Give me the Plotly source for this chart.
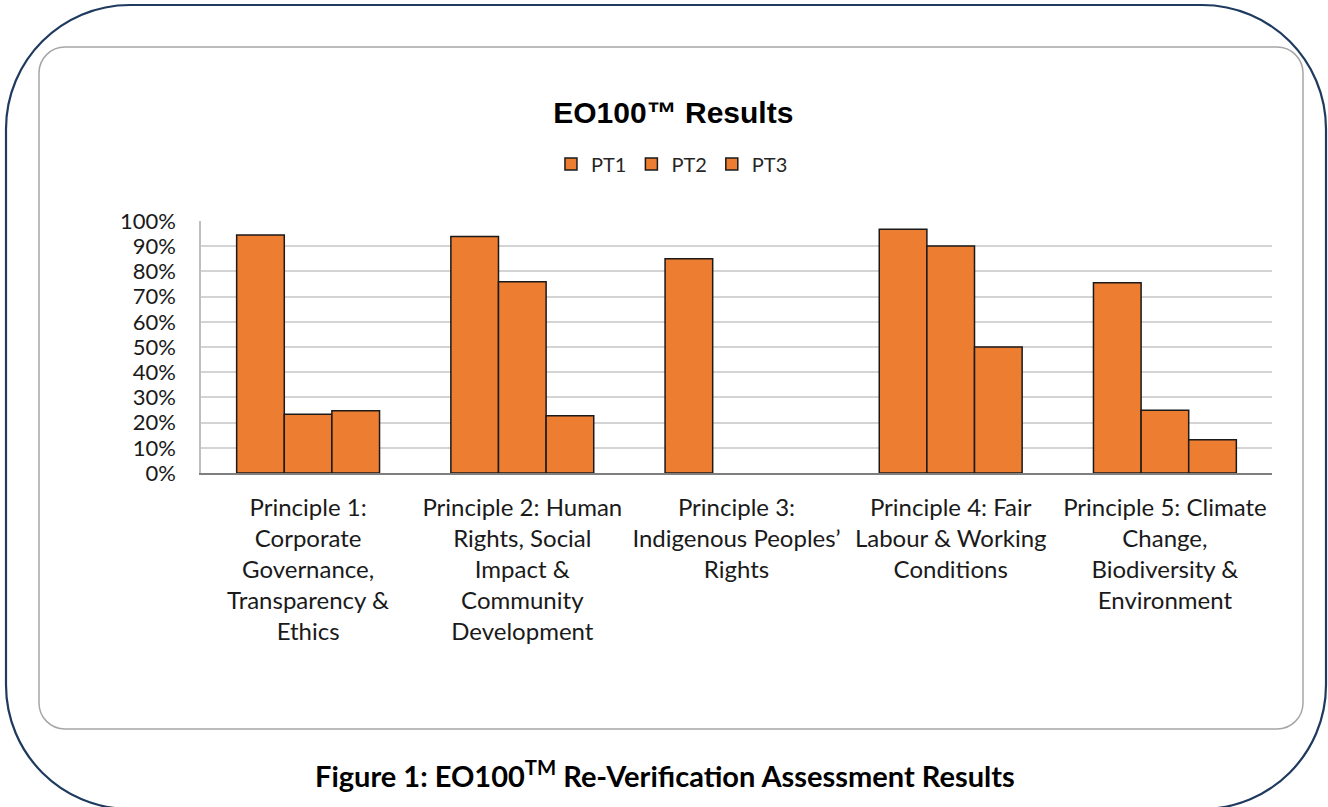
import plotly.graph_objects as go

categories = [
    "Principle 1:<br>Corporate<br>Governance,<br>Transparency &<br>Ethics",
    "Principle 2: Human<br>Rights, Social<br>Impact &<br>Community<br>Development",
    "Principle 3:<br>Indigenous Peoples’<br>Rights",
    "Principle 4: Fair<br>Labour & Working<br>Conditions",
    "Principle 5: Climate<br>Change,<br>Biodiversity &<br>Environment",
]
pt1 = [0.944, 0.938, 0.850, 0.967, 0.755]
pt2 = [0.233, 0.759, None, 0.901, 0.249]
pt3 = [0.247, 0.227, None, 0.500, 0.132]
series_names = ["PT1", "PT2", "PT3"]
y_ticks = [0, 0.1, 0.2, 0.3, 0.4, 0.5, 0.6, 0.7, 0.8, 0.9, 1.0]

W, H = 1328, 807
L, R, T, B = 201, 1272, 221, 473  # plot area in pixels

def px(x):
    return (x - L) / (R - L)

def py(y):
    return (B - y) / (B - T)

def rounded_rect_path(x0, y0, x1, y1, r):
    k = 0.5523 * r
    def P(x, y):
        return f"{px(x):.5f},{py(y):.5f}"
    d = f"M{P(x0 + r, y0)} L{P(x1 - r, y0)} "
    d += f"C{P(x1 - r + k, y0)} {P(x1, y0 + r - k)} {P(x1, y0 + r)} "
    d += f"L{P(x1, y1 - r)} "
    d += f"C{P(x1, y1 - r + k)} {P(x1 - r + k, y1)} {P(x1 - r, y1)} "
    d += f"L{P(x0 + r, y1)} "
    d += f"C{P(x0 + r - k, y1)} {P(x0, y1 - r + k)} {P(x0, y1 - r)} "
    d += f"L{P(x0, y0 + r)} "
    d += f"C{P(x0, y0 + r - k)} {P(x0 + r - k, y0)} {P(x0 + r, y0)} Z"
    return d

bar_color = "#ED7D31"
fig = go.Figure()
for name, vals in zip(series_names, [pt1, pt2, pt3]):
    fig.add_trace(go.Bar(
        x=categories, y=vals, name=name,
        marker=dict(color=bar_color, line=dict(color="#1a1a1a", width=1.5)),
    ))

fig.update_layout(
    width=W, height=H,
    margin=dict(l=L, r=W - R, t=T, b=H - B),
    paper_bgcolor="white", plot_bgcolor="white",
    barmode="group", bargap=0.333, bargroupgap=0,
    title=dict(text="<b>EO100™ Results</b>", x=0.507, xref="container", xanchor="center",
               y=1 - 112 / H, yref="container", yanchor="middle",
               font=dict(family="Liberation Sans, Arial", size=30, color="black")),
    legend=dict(orientation="h", xref="container", x=0.506, xanchor="center",
                yref="container", y=1 - 164 / H, yanchor="middle",
                font=dict(family="Lato", size=20, color="#262626"),
                itemwidth=30, tracegroupgap=0),
    showlegend=True,
    font=dict(family="Lato", color="#262626"),
)
fig.update_xaxes(
    showline=True, linecolor="#7f7f7f", linewidth=1.5,
    tickfont=dict(family="Lato", size=24, color="#1a1a1a"),
    ticks="", ticklabelstandoff=12,
)
fig.update_yaxes(
    range=[0, 1.0], tickvals=y_ticks, tickformat=".0%",
    showgrid=True, gridcolor="#d4d4d4", gridwidth=1.5,
    showline=True, linecolor="#bfbfbf", linewidth=1.5,
    zeroline=False,
    tickfont=dict(family="Lato", size=22, color="#1a1a1a"),
    ticks="", ticklabelstandoff=19,
)

fig.add_shape(type="path", xref="paper", yref="paper",
              path=rounded_rect_path(6, 5, 1326, 809, 124),
              line=dict(color="#1f3a5f", width=2.2), layer="below")
fig.add_shape(type="path", xref="paper", yref="paper",
              path=rounded_rect_path(39, 47, 1303, 729, 26),
              line=dict(color="#a6a6a6", width=1.5), layer="below")

fig.add_annotation(
    text="<b>Figure 1: EO100<sup>TM</sup> Re-Verification Assessment Results</b>",
    xref="paper", yref="paper", x=px(665), y=py(774),
    xanchor="center", yanchor="middle", showarrow=False,
    font=dict(family="Lato", size=29, color="black"),
)

fig.write_html("out.html", config={"displayModeBar": False},
               post_script="document.body.style.margin='0';")
